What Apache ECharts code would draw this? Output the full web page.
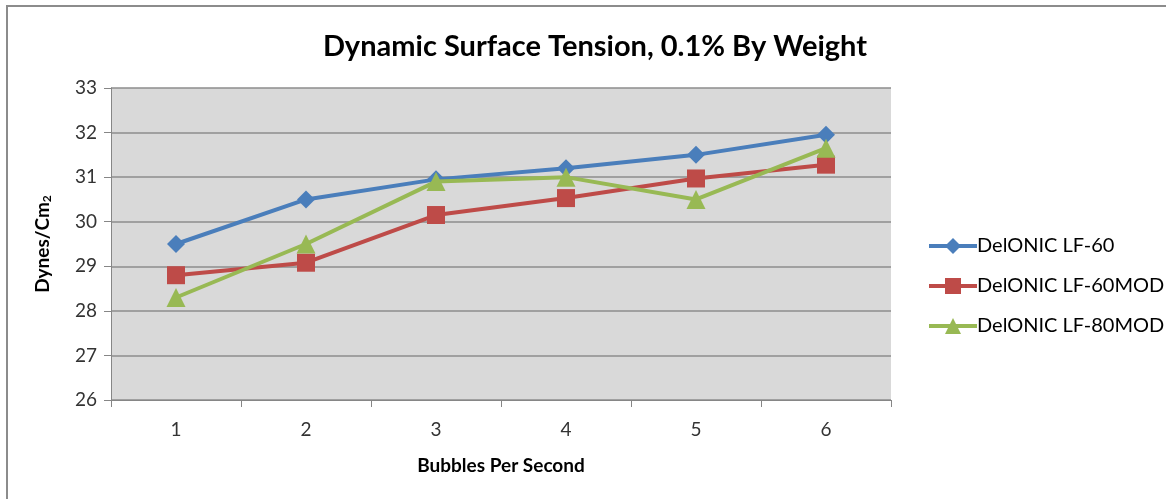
<!DOCTYPE html>
<html><head><meta charset="utf-8">
<script src="https://cdn.jsdelivr.net/npm/echarts@6/dist/echarts.min.js"></script>
<style>
html,body{margin:0;padding:0;background:#fff;}
#frame{position:absolute;left:6px;top:5px;width:1170px;height:500px;border-left:2px solid #8c8c8c;border-top:2px solid #8c8c8c;}
#c{position:absolute;left:0;top:0;width:1166px;height:499px;}
</style></head><body>
<div id="frame"></div>
<div id="c"></div>
<script>
var categories = ['1','2','3','4','5','6'];
var seriesNames = ['DelONIC LF-60','DelONIC LF-60MOD','DelONIC LF-80MOD'];
var lf60 = [29.5, 30.5, 30.95, 31.2, 31.5, 31.95];
var lf60mod = [28.8, 29.08, 30.15, 30.53, 30.97, 31.28];
var lf80mod = [28.3, 29.5, 30.9, 31.0, 30.5, 31.65];
var colors = ['#4a7ebb', '#be4b48', '#98b954'];
var symbols = ['diamond', 'rect', 'triangle'];
var symbolSizes = [18, 18, 19];

var font = 'Lato, "Open Sans", sans-serif';
var chart = echarts.init(document.getElementById('c'));
var dataArr = [lf60, lf60mod, lf80mod];
chart.setOption({
  animation: false,
  title: {
    text: 'Dynamic Surface Tension, 0.1% By Weight',
    left: 590, top: 27, textAlign: 'center',
    textStyle: {fontFamily: font, fontSize: 29, fontWeight: 'bold', color: '#000'}
  },
  legend: {
    orient: 'vertical', left: 922, top: 231, itemGap: 20,
    itemWidth: 48, itemHeight: 20,
    lineStyle: {width: 4},
    textStyle: {fontFamily: font, fontSize: 20, color: '#000', padding: [0,0,0,-5]},
    data: seriesNames
  },
  grid: {left: 111, top: 88, width: 780, height: 312, show: true, backgroundColor: '#d9d9d9', borderWidth: 0},
  xAxis: {
    type: 'category', data: categories, boundaryGap: true,
    name: 'Bubbles Per Second', nameLocation: 'middle', nameGap: 56,
    nameTextStyle: {fontFamily: font, fontSize: 19, fontWeight: 'bold', color: '#000'},
    axisLine: {lineStyle: {color: '#868686', width: 1}},
    axisTick: {show: true, length: 7, lineStyle: {color: '#868686'}},
    axisLabel: {fontFamily: font, fontSize: 19, color: '#333', margin: 20}
  },
  yAxis: {
    type: 'value', min: 26, max: 33, interval: 1,
    name: '{a|Dynes/Cm}{s|2}', nameLocation: 'middle', nameGap: 58, nameRotate: 90,
    nameTextStyle: {rich: {
      a: {fontFamily: font, fontSize: 19, fontWeight: 'bold', color: '#000'},
      s: {fontFamily: font, fontSize: 12, fontWeight: 'bold', color: '#000', verticalAlign: 'bottom', padding: [9,0,0,0]}
    }},
    axisLine: {show: true, lineStyle: {color: '#868686', width: 1}},
    axisTick: {show: true, length: 7, lineStyle: {color: '#868686'}},
    axisLabel: {fontFamily: font, fontSize: 19, color: '#333', margin: 14},
    splitLine: {lineStyle: {color: '#8c8c8c', width: 1.5}}
  },
  series: seriesNames.map(function(n, i){
    return {
      name: n, type: 'line', data: dataArr[i],
      symbol: symbols[i], symbolSize: symbolSizes[i],
      lineStyle: {color: colors[i], width: 4},
      itemStyle: {color: colors[i]},
      z: 3 + i
    };
  })
});
</script>
</body></html>
